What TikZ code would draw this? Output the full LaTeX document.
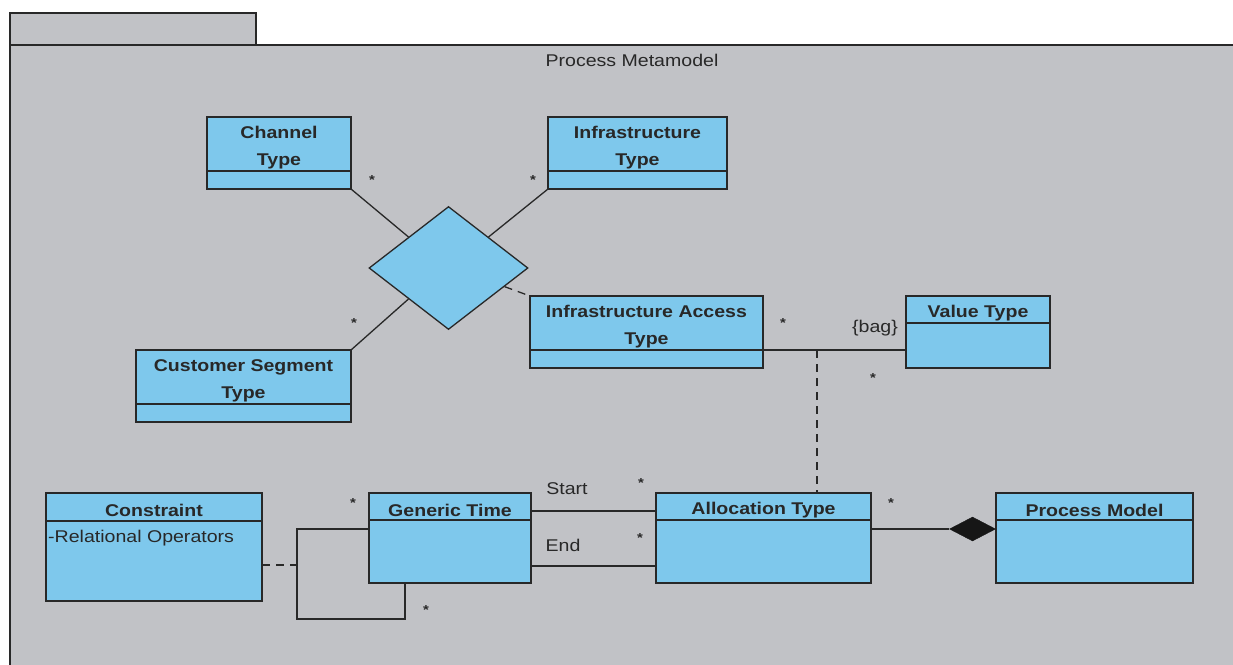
\documentclass[tikz,border=0pt]{standalone}
\usepackage{fontspec}
\setmainfont{Liberation Sans}[FakeStretch=1.15]
\usetikzlibrary{shapes.geometric,calc}
\definecolor{bggray}{RGB}{193,194,198}
\definecolor{clsblue}{RGB}{126,200,236}
\definecolor{ink}{RGB}{40,40,40}
\definecolor{compfill}{RGB}{22,22,22}
\tikzset{
 classbox/.style={draw=ink, line width=1.3pt, fill=clsblue, inner sep=0pt, outer sep=0pt, rectangle},
 classtitle/.style={font=\fontsize{17}{27}\selectfont\bfseries, text=ink, align=center, inner sep=0pt, yshift=-3.5pt},
 attr/.style={font=\fontsize{17}{20}\selectfont, text=ink, inner sep=0pt},
 conn/.style={draw=ink, line width=1.3pt},
 dconn/.style={conn, dash pattern=on 8pt off 6pt},
 mult/.style={font=\fontsize{13}{13}\selectfont\bfseries, text=ink, inner sep=0pt},
 lbl/.style={font=\fontsize{17}{20}\selectfont, text=ink, inner sep=0pt},
 pkgbox/.style={draw=ink, line width=1.3pt, fill=bggray, inner sep=0pt, outer sep=0pt, rectangle},
}
\newcommand\umlclass[7]{%
 \pgfmathsetmacro\clsw{#4-#2}%
 \pgfmathsetmacro\clsh{#5-#3}%
 \node[classbox, minimum width=\clsw pt, minimum height=\clsh pt, anchor=north west] (#1) at (#2,#3) {};
 \draw[conn] (#2,#6) -- (#4,#6);
 \node[classtitle] (#1-t) at ({(#2+#4)/2},{(#3+#6)/2}) {#7};
}
\begin{document}
\begin{tikzpicture}[x=1pt,y=-1pt]
\useasboundingbox (0,0) rectangle (1233,664);
\clip (0,0) rectangle (1233,664);
\fill[white] (0,0) rectangle (1233,664);
\node[pkgbox, minimum width=246pt, minimum height=32pt, anchor=north west] (tab) at (10,13) {};
\node[pkgbox, minimum width=1240pt, minimum height=640pt, anchor=north west] (pkg) at (10,45) {};
\node[lbl] (pkgname) at (632,60) {Process Metamodel};

\umlclass{ch}{207}{117}{351}{189}{171}{Channel\\Type}
\umlclass{inf}{548}{117}{727}{189}{171}{Infrastructure\\Type}
\umlclass{cs}{136}{350}{351}{422}{404}{Customer Segment\\Type}
\umlclass{iat}{530}{296}{763}{368}{350}{Infrastructure Access\\Type}
\umlclass{vt}{906}{296}{1050}{368}{323}{Value Type}
\umlclass{con}{46}{493}{262}{601}{521}{Constraint}
\umlclass{gt}{369}{493}{531}{583}{520}{Generic Time}
\umlclass{alloc}{656}{493}{871}{583}{520}{Allocation Type}
\umlclass{pm}{996}{493}{1193}{583}{520}{Process Model}
\node[attr, anchor=west] (conattr) at (48,538) {-Relational Operators};

% n-ary association diamond
\node[diamond, draw=ink, line width=1.3pt, fill=clsblue, minimum width=159pt, minimum height=123pt, inner sep=0pt] (dia) at (448.5,268) {};
\draw[conn] (ch.south east) -- ($(dia.north)!0.5!(dia.west)$);
\draw[conn] (inf.south west) -- ($(dia.north)!0.5!(dia.east)$);
\draw[conn] (cs.north east) -- ($(dia.south)!0.5!(dia.west)$);
\draw[dconn] ($(dia.east)!0.3!(dia.south)$) -- (iat.north west);
\node[mult] (m1) at (372,180) {*};
\node[mult] (m2) at (533,180) {*};
\node[mult] (m3) at (354,323) {*};

% IAT -- Value Type with association class
\coordinate (assoc) at (817,350);
\draw[conn] (iat.east |- assoc) -- (vt.west |- assoc);
\draw[dconn] (assoc) -- (assoc |- alloc.north);
\node[mult] (m4) at (783,323) {*};
\node[lbl] (bag) at (875,328) {\{bag\}};
\node[mult] (m5) at (873,378) {*};

% Generic Time -- Allocation Type
\coordinate (ys) at (0,511);
\coordinate (ye) at (0,566);
\draw[conn] (gt.east |- ys) -- (alloc.west |- ys);
\draw[conn] (gt.east |- ye) -- (alloc.west |- ye);
\node[lbl] (start) at (567,489) {Start};
\node[lbl] (end) at (563,545) {End};
\node[mult] (m6) at (641,483) {*};
\node[mult] (m7) at (640,538) {*};

% self loop on Generic Time and constraint link
\coordinate (la) at (297,529);
\coordinate (lb) at (297,619);
\coordinate (lc) at (405,619);
\coordinate (lp) at (297,565);
\draw[conn] (gt.west |- la) -- (la) -- (lb) -- (lc) -- (lc |- gt.south);
\draw[dconn] (con.east |- lp) -- (lp);
\node[mult] (m8) at (353,503) {*};
\node[mult] (m9) at (426,610) {*};

% composition
\node[diamond, fill=compfill, draw=compfill, minimum width=46pt, minimum height=24pt, inner sep=0pt] (comp) at (972.5,529) {};
\draw[conn] (alloc.east |- comp.west) -- (comp.west);
\draw[conn] (comp.east) -- (pm.west |- comp.east);
\node[mult] (m10) at (891,503) {*};
\end{tikzpicture}
\end{document}
